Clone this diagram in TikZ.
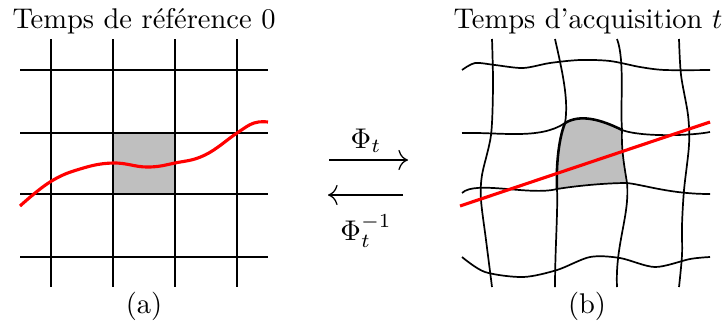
\documentclass[tikz,border=0pt]{standalone}
\usetikzlibrary{arrows.meta}
\begin{document}
\begin{tikzpicture}[x=0.351pt,y=-0.351pt,
  gridline/.style={line width=0.7pt},
  wavy/.style={line width=0.6pt},
  wavythick/.style={line width=0.9pt},
  redline/.style={red,line width=1.1pt},
  cell/.style={fill=black!25},
  maparrow/.style={-{Computer Modern Rightarrow[scale=1.3]},line width=0.45pt},
  lbl/.style={anchor=base,inner sep=0pt}]
\useasboundingbox (0,0) rectangle (722,325);
% ---- (a) regular grid ----
\fill[cell] (113,133) rectangle (175,194);
\foreach \x in {50.7,113.3,175,237.3} \draw[gridline] (\x,39) -- (\x,287);
\foreach \y in {70,132.7,194.3,256.7} \draw[gridline] (20,\y) -- (268,\y);
\draw[redline] plot[smooth,tension=0.7] coordinates {(20,206) (50,182) (80,169) (113,163) (147,167) (175,163) (205,155) (237,133) (254,123) (268,122)};
\node[lbl] (ta) at (144,28) {Temps de référence 0};
\node[lbl] (la) at (144,313) {(a)};
% ---- arrows ----
\coordinate (r1) at (329,160); \coordinate (r2) at (408,160);
\coordinate (l1) at (403,195); \coordinate (l2) at (328,195);
\draw[maparrow] (r1) -- (r2);
\draw[maparrow] (l1) -- (l2);
\node[lbl] (phi) at (366,148) {$\Phi_t$};
\node[lbl] (phiinv) at (366,240) {$\Phi_t^{-1}$};
% ---- (b) deformed grid ----
\coordinate (c1) at (565,123); \coordinate (c2) at (622,130);
\coordinate (c3) at (627,183); \coordinate (c4) at (557,189);
\fill[cell] (c1) .. controls (580,114) and (600,119) .. (c2)
  .. controls (621,150) and (625,170) .. (c3)
  .. controls (605,183) and (575,186) .. (c4)
  .. controls (556,170) and (558,140) .. (c1) -- cycle;
\draw[wavy] plot[smooth] coordinates {(492,39) (493,85) (491,135) (482,175) (481,200) (486,240) (492,287)};
\draw[wavy] (555,39) .. controls (562,70) and (569,100) .. (c1);
\draw[wavythick] (c1) .. controls (558,140) and (556,170) .. (c4);
\draw[wavy] (c4) .. controls (558,210) and (555,250) .. (555,287);
\draw[wavy] (617,39) .. controls (625,60) and (620,105) .. (c2)
  .. controls (621,150) and (625,170) .. (c3)
  .. controls (630,215) and (615,245) .. (617,287);
\draw[wavy] plot[smooth] coordinates {(679,39) (681,75) (688,115) (689,145) (684,190) (682,225) (682,255) (679,287)};
\draw[wavy] plot[smooth] coordinates {(462,70) (475,63) (495,65) (523,68) (550,63) (580,60) (610,61) (640,67) (665,70) (710,70)};
\draw[wavy] (462,133) .. controls (500,132) and (540,140) .. (c1);
\draw[wavythick] (c1) .. controls (580,114) and (600,119) .. (c2);
\draw[wavy] (c2) .. controls (640,137) and (690,136) .. (710,132);
\draw[wavy] (462,193) .. controls (475,180) and (530,196) .. (c4)
  .. controls (575,186) and (605,183) .. (c3)
  .. controls (645,185) and (670,194) .. (710,194);
\draw[wavy] plot[smooth] coordinates {(462,257) (485,272) (523,277) (557,270) (590,257) (620,258) (655,267) (690,259) (710,257)};
\coordinate (rs) at (460,206); \coordinate (re) at (710,122);
\draw[redline] (rs) -- (re);
\node[lbl] (tb) at (588,28) {Temps d'acquisition $t$};
\node[lbl] (lb) at (587,313) {(b)};
\end{tikzpicture}
\end{document}
